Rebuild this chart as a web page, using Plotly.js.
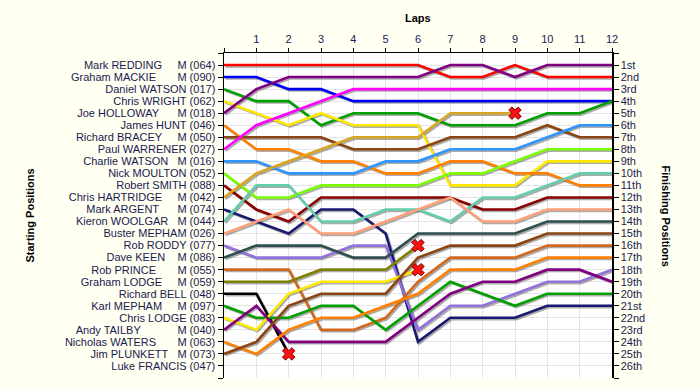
<!DOCTYPE html>
<html>
<head>
<meta charset="utf-8">
<script src="https://cdn.plot.ly/plotly-3.0.1.min.js"></script>
<style>
html,body{margin:0;padding:0;background:#fffff2;}
#chart{width:700px;height:390px;}
</style>
</head>
<body>
<div id="chart"></div>
<script>
// ---- data ----
const laps = [0,1,2,3,4,5,6,7,8,9,10,11,12];
const lapLabels = ["","1","2","3","4","5","6","7","8","9","10","11","12"];

const driverNames = ["Mark REDDING","Graham MACKIE","Daniel WATSON","Chris WRIGHT","Joe HOLLOWAY","James HUNT","Richard BRACEY","Paul WARRENER","Charlie WATSON","Nick MOULTON","Robert SMITH","Chris HARTRIDGE","Mark ARGENT","Kieron WOOLGAR","Buster MEPHAM","Rob RODDY","Dave KEEN","Rob PRINCE","Graham LODGE","Richard BELL","Karl MEPHAM","Chris LODGE","Andy TAILBY","Nicholas WATERS","Jim PLUNKETT","Luke FRANCIS"];
const carNumbers = ["064","090","017","062","018","046","050","027","016","052","088","042","074","044","026","077","086","055","059","048","097","083","040","063","073","047"];
const masters = [1,1,0,0,1,0,1,0,1,0,0,1,1,1,0,0,1,1,1,0,1,0,1,1,1,0];
const labelGap = [5,7,1,1,6,1,5,1,3,1,1,5,6,3,1,1,4,7,5,1,5,1,12,7,3,1];
const finishLabels = ["1st","2nd","3rd","4th","5th","6th","7th","8th","9th","10th","11th","12th","13th","14th","15th","16th","17th","18th","19th","20th","21st","22nd","23rd","24th","25th","26th"];

// positions by lap (lap 0 = grid)
const posRedding   = [1,1,1,1,1,1,1,2,2,1,2,2,2];
const posMackie    = [2,2,3,3,4,4,4,4,4,4,4,4,4];
const posDWatson   = [3,4,4,6,5,5,5,6,6,6,5,5,4];
const posWright    = [4,5,6,5,6,6,6,11,11,11,9,9,9];
const posHolloway  = [5,3,2,2,2,2,2,1,1,2,1,1,1];
const posHunt      = [6,8,8,9,9,10,10,9,9,10,10,11,11];
const posBracey    = [7,7,7,7,8,8,8,7,7,7,6,7,7];
const posWarrener  = [8,6,5,4,3,3,3,3,3,3,3,3,3];
const posCWatson   = [9,9,10,10,10,9,9,8,8,8,7,6,6];
const posMoulton   = [10,12,12,11,11,11,11,10,10,9,8,8,8];
const posSmith     = [11,13,14,12,12,12,12,12,13,13,12,12,12];
const posHartridge = [12,10,9,8,7,7,7,5,5,5];
const posArgent    = [13,14,15,13,13,15,24,22,22,22,21,21,21];
const posWoolgar   = [14,11,11,14,14,13,13,14,12,12,11,10,10];
const posBMepham   = [15,14,13,15,15,14,13,12,14,14,13,13,13];
const posRoddy     = [16,17,17,17,16,16,23,21,21,20,19,19,18];
const posKeen      = [17,16,16,16,17,17,15,15,15,15,14,14,14];
const posPrince    = [18,18,18,23,23,22,19,17,17,17,16,16,16];
const posGLodge    = [19,19,19,18,18,18,16];
const posBell      = [20,20,25];
const posKMepham   = [21,22,22,21,21,23,21,19,20,21,20,20,20];
const posCLodge    = [22,23,20,19,19,19,18];
const posTailby    = [23,21,24,24,24,24,22,20,19,19,18,18,19];
const posWaters    = [24,25,23,22,22,21,20,18,18,18,17,17,17];
const posPlunkett  = [25,24,21,20,20,20,17,16,16,16,15,15,15];
const posFrancis   = [];

const series = [posRedding,posMackie,posDWatson,posWright,posHolloway,posHunt,posBracey,posWarrener,posCWatson,posMoulton,posSmith,posHartridge,posArgent,posWoolgar,posBMepham,posRoddy,posKeen,posPrince,posGLodge,posBell,posKMepham,posCLodge,posTailby,posWaters,posPlunkett,posFrancis];

// ---- styles ----
const colors = ["#ff0000","#0000f0","#00a000","#ffe800","#800080","#ff8000","#8b4513","#ff00ff","#2f95ff","#7cfc00","#8b0000","#daa520","#191970","#66cdaa","#ffa07a","#9370db","#2f4f4f","#d2691e","#808000","#000000","#00a000","#ffe800","#800080","#ff8000","#8b4513","#888888"];

const NB = "\u00a0";
const startLabels = driverNames.map((n,i) => masters[i]
  ? n + NB.repeat(labelGap[i]) + "M (" + carNumbers[i] + ")"
  : n + NB + "(" + carNumbers[i] + ")");

const nPos = driverNames.length;
const posTicks = [];
for (let p = 0; p <= nPos + 1; p++) posTicks.push(p);
const leftText = [""].concat(startLabels).concat([""]);
const rightText = [""].concat(finishLabels).concat([""]);

const PW = 388, PH = 325, SH = 1.4;
const sx = SH / PW * 12;
const sy = SH / PH * (nPos + 1);

const traces = [];
// transparent carrier so the main axes draw their ticks
traces.push({x: laps, y: posRedding, xaxis: 'x', yaxis: 'y', mode: 'lines',
  line: {color: 'rgba(0,0,0,0)', width: 0.1}, hoverinfo: 'skip', showlegend: false});
// shadows
series.forEach((s) => {
  if (!s.length) return;
  traces.push({x: laps.slice(0, s.length), y: s, xaxis: 'x2', yaxis: 'y2', mode: 'lines',
    line: {color: 'rgba(70,70,70,0.45)', width: 2.6}, hoverinfo: 'skip', showlegend: false});
});
// lines
series.forEach((s, i) => {
  if (!s.length) return;
  traces.push({x: laps.slice(0, s.length), y: s, xaxis: 'x3', yaxis: 'y3', mode: 'lines',
    name: driverNames[i], line: {color: colors[i], width: 2.6}, showlegend: false});
});
// retirements
const rx = [], ry = [];
series.forEach((s) => {
  if (s.length && s.length < laps.length) { rx.push(laps[s.length - 1]); ry.push(s[s.length - 1]); }
});
traces.push({x: rx, y: ry, xaxis: 'x3', yaxis: 'y3', mode: 'markers',
  marker: {symbol: 'x', size: 11, color: '#ff1010', line: {color: '#7a0000', width: 1}},
  showlegend: false, hoverinfo: 'skip'});
// carrier for right axis
traces.push({x: laps, y: posRedding, xaxis: 'x', yaxis: 'y4', mode: 'lines',
  line: {color: 'rgba(0,0,0,0)', width: 0.1}, showlegend: false, hoverinfo: 'skip'});

const txtColor = '#1a1a50';
const fam = 'Arial, "Liberation Sans", sans-serif';
const layout = {
  width: 700, height: 390,
  margin: {l: 224, r: 88, t: 53, b: 12},
  paper_bgcolor: '#fffff2', plot_bgcolor: '#ffffff',
  showlegend: false,
  font: {family: fam, size: 11, color: txtColor},
  xaxis: {side: 'top', range: [0, 12], tickmode: 'array', tickvals: laps, ticktext: lapLabels,
    ticks: 'outside', ticklen: 4, tickcolor: '#000', showline: true, linecolor: '#000', linewidth: 1.5,
    showgrid: true, gridcolor: '#e4e4e4', gridwidth: 1, zeroline: false, fixedrange: true,
    tickfont: {family: fam, size: 11, color: txtColor}},
  yaxis: {range: [nPos + 1, 0], tickmode: 'array', tickvals: posTicks, ticktext: leftText,
    ticks: 'outside', ticklen: 5, tickcolor: '#000', showline: true, linecolor: '#000', linewidth: 1.5,
    showgrid: true, gridcolor: '#e4e4e4', gridwidth: 1, zeroline: false, fixedrange: true,
    tickfont: {family: fam, size: 11, color: txtColor}},
  yaxis4: {overlaying: 'y', side: 'right', anchor: 'x', range: [nPos + 1, 0], tickmode: 'array',
    tickvals: posTicks, ticktext: rightText, ticks: 'outside', ticklen: 5, tickcolor: '#000',
    showline: true, linecolor: '#000', linewidth: 1.5, showgrid: false, zeroline: false, fixedrange: true,
    tickfont: {family: fam, size: 11, color: txtColor}},
  xaxis2: {overlaying: 'x', anchor: 'y2', range: [-sx, 12 - sx], visible: false, fixedrange: true},
  yaxis2: {overlaying: 'y', anchor: 'x2', range: [nPos + 1 - sy, -sy], visible: false, fixedrange: true},
  xaxis3: {overlaying: 'x', anchor: 'y3', range: [0, 12], visible: false, fixedrange: true},
  yaxis3: {overlaying: 'y', anchor: 'x3', range: [nPos + 1, 0], visible: false, fixedrange: true},
  annotations: [
    {text: '<b>Laps</b>', xref: 'paper', yref: 'paper', x: 0.5, y: (378 - 18) / 325, showarrow: false,
      xanchor: 'center', yanchor: 'middle', font: {family: fam, size: 11, color: '#000'}},
    {text: '<b>Starting Positions</b>', xref: 'paper', yref: 'paper', x: (29 - 224) / 388, y: 0.5,
      showarrow: false, textangle: -90, xanchor: 'center', yanchor: 'middle', font: {family: fam, size: 11, color: '#000'}},
    {text: '<b>Finishing Positions</b>', xref: 'paper', yref: 'paper', x: (666 - 224) / 388, y: 0.5,
      showarrow: false, textangle: 90, xanchor: 'center', yanchor: 'middle', font: {family: fam, size: 11, color: '#000'}}
  ]
};

Plotly.newPlot('chart', traces, layout, {displayModeBar: false, staticPlot: true});
</script>
</body>
</html>
